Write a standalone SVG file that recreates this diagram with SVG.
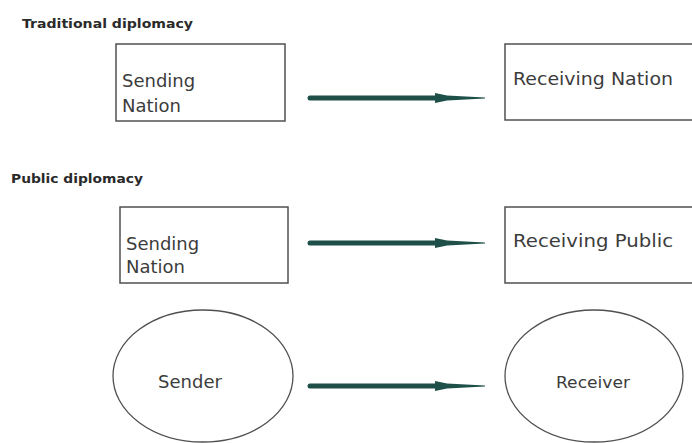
<svg xmlns="http://www.w3.org/2000/svg" width="692" height="443" viewBox="0 0 692 443">
  <style>
    .title { font-family: "DejaVu Sans", "Liberation Sans", sans-serif; font-weight: bold; font-size: 13px; fill: #2a2a2a; }
    .lbl { font-family: "DejaVu Sans", "Liberation Sans", sans-serif; font-size: 18px; fill: #3c3c3c; }
    .box { fill: #ffffff; stroke: #505050; stroke-width: 1.5; }
    .oval { fill: #ffffff; stroke: #505050; stroke-width: 1.3; }
    .shaft { stroke: #1e4f49; stroke-width: 5; stroke-linecap: round; fill: none; }
  </style>
  <defs>
    <marker id="head" markerUnits="userSpaceOnUse" markerWidth="52" markerHeight="12" viewBox="0 0 52 12" refX="5" refY="6" orient="auto">
      <path d="M0,1 L12,3.4 L50,5.6 L50,6.4 L12,8.6 L0,11 Z" fill="#1e4f49"/>
    </marker>
  </defs>
  <rect width="692" height="443" fill="#ffffff"/>

  <text class="title" x="22" y="28" textLength="171" lengthAdjust="spacingAndGlyphs">Traditional diplomacy</text>
  <text class="title" x="11" y="183" textLength="132" lengthAdjust="spacingAndGlyphs">Public diplomacy</text>

  <g id="sending-nation-1">
    <rect class="box" x="116" y="44" width="169" height="77"/>
    <text class="lbl" x="122" y="87">Sending</text>
    <text class="lbl" x="122" y="112">Nation</text>
  </g>
  <g id="receiving-nation">
    <rect class="box" x="505" y="44" width="200" height="76"/>
    <text class="lbl" x="513" y="85" textLength="160" lengthAdjust="spacingAndGlyphs">Receiving Nation</text>
  </g>

  <g id="sending-nation-2">
    <rect class="box" x="120" y="207" width="168" height="76"/>
    <text class="lbl" x="126" y="250">Sending</text>
    <text class="lbl" x="126" y="273">Nation</text>
  </g>
  <g id="receiving-public">
    <rect class="box" x="505" y="207" width="200" height="76"/>
    <text class="lbl" x="513" y="247" textLength="160" lengthAdjust="spacingAndGlyphs">Receiving Public</text>
  </g>

  <g id="sender">
    <ellipse class="oval" cx="203" cy="376" rx="90" ry="66"/>
    <text class="lbl" x="190" y="388" text-anchor="middle">Sender</text>
  </g>
  <g id="receiver">
    <ellipse class="oval" cx="594" cy="376" rx="89" ry="66"/>
    <text class="lbl" x="593" y="388" text-anchor="middle" style="font-size:15px" textLength="74" lengthAdjust="spacingAndGlyphs">Receiver</text>
  </g>

  <g id="connectors">
    <line class="shaft" x1="310" y1="98" x2="440" y2="98" marker-end="url(#head)"/>
    <line class="shaft" x1="310" y1="243" x2="440" y2="243" marker-end="url(#head)"/>
    <line class="shaft" x1="310" y1="386" x2="440" y2="386" marker-end="url(#head)"/>
  </g>
</svg>
